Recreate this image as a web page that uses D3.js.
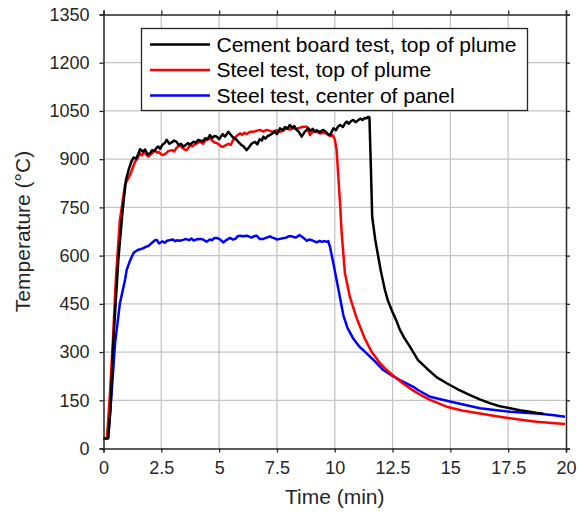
<!DOCTYPE html>
<html><head><meta charset="utf-8">
<script src="https://cdn.jsdelivr.net/npm/d3@7"></script>
<style>body{margin:0;background:#fff}svg{display:block}text{font-family:"Liberation Sans",Arial,sans-serif}</style>
</head><body><div id="chart"></div>
<script>
const xTicks = [0, 2.5, 5, 7.5, 10, 12.5, 15, 17.5, 20];
const xTickLabels = ["0", "2.5", "5", "7.5", "10", "12.5", "15", "17.5", "20"];
const yTicks = [0, 150, 300, 450, 600, 750, 900, 1050, 1200, 1350];
const seriesNames = ["Cement board test, top of plume", "Steel test, top of plume", "Steel test, center of panel"];
const seriesColors = ["#000000", "#ff0000", "#0000ff"];

const cementT = [0,0.2,0.3,0.42,0.64,0.83,0.97,1.1,1.22,1.3,1.4,1.5,1.58,1.7,1.8,1.9,2.01,2.1,2.2,2.3,2.37,2.45,2.55,2.65,2.73,2.85,2.95,3.05,3.16,3.25,3.35,3.45,3.55,3.65,3.75,3.88,4.0,4.1,4.17,4.3,4.4,4.5,4.6,4.7,4.8,4.9,5.0,5.15,5.25,5.4,5.5,5.6,5.76,5.85,5.95,6.05,6.19,6.3,6.4,6.55,6.65,6.75,6.85,6.91,7.0,7.1,7.2,7.3,7.4,7.5,7.63,7.75,7.85,7.95,8.06,8.15,8.25,8.35,8.45,8.57,8.7,8.86,8.95,9.05,9.15,9.22,9.35,9.5,9.6,9.7,9.8,9.94,10.05,10.15,10.23,10.35,10.45,10.52,10.6,10.7,10.8,10.9,11.0,11.1,11.2,11.3,11.38,11.45,11.5,11.56,11.62,11.75,11.88,12.0,12.17,12.3,12.46,12.65,12.82,13.0,13.25,13.6,13.98,14.4,14.84,15.3,15.85,16.3,16.7,17.1,17.58,18.0,18.44,18.7,19.02];
const cementV = [30,32,120,327,586,742,835,870,895,905,902,915,931,924,930,915,918,928,925,936,939,932,945,950,960,948,952,958,954,944,948,939,944,950,945,954,952,960,958,956,965,962,975,966,972,970,962,978,970,985,976,968,960,952,945,940,928,938,948,954,946,962,958,970,964,972,975,980,986,978,996,990,1000,995,1006,998,1003,991,985,970,985,996,988,994,985,990,984,991,986,978,975,996,990,1002,1006,1000,1012,1017,1010,1018,1022,1015,1020,1026,1022,1028,1027,1032,1030,880,720,650,597,550,493,460,431,400,369,345,317,275,249,222,203,185,166,152,141,132,125,119,114,111,108];

const steelT = [0,0.15,0.28,0.4,0.54,0.71,0.93,1.05,1.15,1.25,1.36,1.45,1.58,1.66,1.75,1.85,1.94,2.05,2.15,2.23,2.32,2.4,2.5,2.59,2.7,2.8,2.95,3.05,3.15,3.25,3.31,3.4,3.5,3.6,3.74,3.85,3.95,4.05,4.17,4.3,4.4,4.5,4.6,4.7,4.8,4.9,5.0,5.1,5.18,5.3,5.4,5.5,5.61,5.75,5.9,6.0,6.1,6.2,6.34,6.48,6.6,6.77,6.9,7.06,7.2,7.34,7.45,7.63,7.75,7.92,8.05,8.21,8.35,8.5,8.64,8.79,8.93,9.05,9.22,9.36,9.5,9.65,9.79,9.9,10.0,10.08,10.15,10.23,10.3,10.44,10.66,10.95,11.31,11.6,11.96,12.3,12.68,13.0,13.4,13.75,14.12,14.84,15.5,16.28,17.0,17.58,18.2,18.73,19.4,19.96];
const steelV = [30,32,172,327,534,711,820,838,851,870,892,900,918,912,922,914,908,915,922,928,920,922,915,913,918,925,928,924,935,940,944,936,930,928,944,940,946,950,954,948,957,962,965,958,952,950,945,939,939,944,948,944,960,972,980,976,982,978,985,985,988,991,986,991,988,985,990,985,988,996,992,996,994,998,1001,1001,975,985,985,980,982,980,972,975,962,930,850,760,669,545,470,405,340,300,265,240,218,200,180,165,151,130,118,109,100,94,88,83,79,76];

const panelT = [0,0.2,0.35,0.5,0.71,0.93,1.0,1.15,1.29,1.36,1.5,1.6,1.72,1.85,1.95,2.05,2.15,2.23,2.3,2.4,2.55,2.65,2.74,2.85,3.0,3.1,3.2,3.3,3.45,3.55,3.7,3.8,3.9,4.0,4.17,4.3,4.46,4.6,4.7,4.8,4.9,5.05,5.18,5.3,5.4,5.47,5.6,5.7,5.8,5.9,6.05,6.2,6.4,6.5,6.62,6.75,6.91,7.05,7.2,7.3,7.4,7.5,7.63,7.75,7.9,8.0,8.14,8.3,8.4,8.47,8.6,8.7,8.79,8.9,9.0,9.1,9.22,9.35,9.45,9.55,9.65,9.72,9.79,9.87,9.94,10.08,10.2,10.37,10.55,10.8,11.05,11.38,11.75,12.1,12.4,12.82,13.4,13.6,14.12,14.98,15.6,16.28,17.0,17.58,18.2,18.73,19.4,19.96];
const panelV = [30,32,172,327,452,524,555,585,607,612,618,620,623,628,630,637,643,648,649,638,644,640,646,648,650,645,648,646,649,652,648,653,647,650,652,650,643,650,648,655,655,650,641,648,652,655,650,652,660,662,660,662,656,660,662,652,652,656,660,656,654,650,652,654,656,660,660,656,660,664,658,652,646,650,648,645,641,646,643,645,643,645,628,600,576,524,480,415,375,342,318,296,270,244,230,213,192,182,161,146,136,125,119,114,111,109,104,99];

const W = 579, H = 514;
const m = {left: 103.5, right: W - 566, top: 14.5, bottom: H - 448.5};
const svg = d3.select("#chart").append("svg").attr("width", W).attr("height", H);
const x = d3.scaleLinear().domain([0, 20]).range([m.left, W - m.right]);
const y = d3.scaleLinear().domain([0, 1350]).range([H - m.bottom, m.top]);

// grid
const g = svg.append("g");
g.selectAll(".gx").data(xTicks.slice(1, -1)).join("line")
  .attr("x1", d => x(d)).attr("x2", d => x(d)).attr("y1", y(0)).attr("y2", y(1350))
  .attr("stroke", "#c4c4c4").attr("stroke-width", 1.3);
g.selectAll(".gy").data(yTicks.slice(1, -1)).join("line")
  .attr("y1", d => y(d)).attr("y2", d => y(d)).attr("x1", x(0)).attr("x2", x(20))
  .attr("stroke", "#c4c4c4").attr("stroke-width", 1.3);

// lines
const line = d3.line().x(d => x(d[0])).y(d => y(d[1]));
const series = [[cementT, cementV], [steelT, steelV], [panelT, panelV]];
[2, 1, 0].forEach(i => {
  const [ts, vs] = series[i];
  svg.append("path").datum(ts.map((t, k) => [t, vs[k]]))
    .attr("d", line).attr("fill", "none").attr("stroke", seriesColors[i])
    .attr("stroke-width", 2.5).attr("stroke-linejoin", "round");
});

// axes (box with outward ticks)
const tk = 4;
const fmt = (d) => xTickLabels[xTicks.indexOf(d)];
const axB = svg.append("g").attr("transform", `translate(0,${y(0)})`)
  .call(d3.axisBottom(x).tickValues(xTicks).tickFormat(fmt).tickSize(tk).tickPadding(9));
const axT = svg.append("g").attr("transform", `translate(0,${y(1350)})`)
  .call(d3.axisTop(x).tickValues(xTicks).tickFormat("").tickSize(tk));
const axL = svg.append("g").attr("transform", `translate(${x(0)},0)`)
  .call(d3.axisLeft(y).tickValues(yTicks).tickFormat(d3.format("d")).tickSize(tk).tickPadding(10));
const axR = svg.append("g").attr("transform", `translate(${x(20)},0)`)
  .call(d3.axisRight(y).tickValues(yTicks).tickFormat("").tickSize(tk));
[axB, axT, axL, axR].forEach(a => {
  a.select(".domain").attr("stroke", "#262626").attr("stroke-width", 1.5);
  a.selectAll(".tick line").attr("stroke", "#262626").attr("stroke-width", 1.3);
  a.selectAll("text").attr("fill", "#262626").style("font-size", "18px")
   .style("font-family", '"Liberation Sans", Arial, sans-serif');
});

svg.append("text").attr("x", (x(0) + x(20)) / 2).attr("y", 504)
  .attr("text-anchor", "middle").attr("fill", "#262626").style("font-size", "21px").text("Time (min)");
svg.append("text").attr("transform", `translate(30,${(y(0) + y(1350)) / 2}) rotate(-90)`)
  .attr("text-anchor", "middle").attr("fill", "#262626").style("font-size", "21px").text("Temperature (°C)");

// legend
const lg = svg.append("g");
lg.append("rect").attr("x", 141.5).attr("y", 28.5).attr("width", 386).attr("height", 82)
  .attr("fill", "#fff").attr("stroke", "#262626").attr("stroke-width", 1.3);
seriesNames.forEach((n, i) => {
  const yy = 44.5 + i * 25.5;
  lg.append("line").attr("x1", 150).attr("x2", 210).attr("y1", yy).attr("y2", yy)
    .attr("stroke", seriesColors[i]).attr("stroke-width", 2.5);
  lg.append("text").attr("x", 216.5).attr("y", yy).attr("dy", "0.35em")
    .attr("fill", "#000").style("font-size", "21px").text(n);
});
</script></body></html>
